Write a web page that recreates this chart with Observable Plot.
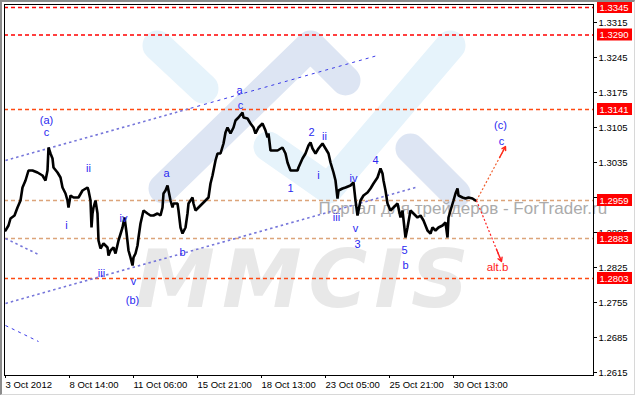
<!DOCTYPE html>
<html><head><meta charset="utf-8">
<script src="https://cdn.jsdelivr.net/npm/d3@7"></script>
<script src="https://cdn.jsdelivr.net/npm/@observablehq/plot@0.6"></script>
<style>
body{margin:0;background:#fff;}
#wrap{position:relative;width:635px;height:395px;overflow:hidden;background:#fff;}
#border{position:absolute;left:0;top:0;width:635px;height:395px;box-sizing:border-box;border-top:2px solid #8c8c8c;border-left:2px solid #8c8c8c;border-right:1px solid #d8d8d8;border-bottom:1px solid #d8d8d8;pointer-events:none;}
</style></head><body><div id="wrap"><div id="border"></div></div>
<script>
// ---- price path (bar index, price) ----
const bars = [0,3,5,9,12,15,17,20,23,27,32,37,40,42,43,45,47,48,52,55,57,60,62,63,65,68,73,77,82,83,85,86,87,88,90,92,93,95,98,102,103,105,108,110,113,117,119,121,123,125,127,128,130,132,133,135,138,142,145,148,152,155,157,158,160,162,163,165,167,168,172,173,175,177,180,182,183,185,187,188,190,193,197,200,203,205,207,210,212,215,218,220,222,225,228,230,233,237,238,242,245,248,250,253,257,260,262,263,265,268,272,277,280,282,285,288,292,293,297,300,303,305,307,310,313,317,320,323,325,328,330,332,333,337,340,345,348,350,352,353,355,358,362,365,368,372,375,377,378,380,382,385,388,392,395,397,400,402,405,408,412,415,418,422,425,427,430,433,437,440,442,443,445,448,450,452,453,457,460,463,467,470];
const prices = [1.2899,1.2909,1.2923,1.2929,1.2945,1.2959,1.2985,1.2999,1.3019,1.3019,1.3015,1.3009,1.2999,1.3019,1.3065,1.3053,1.3043,1.3025,1.3015,1.3005,1.2985,1.2973,1.2959,1.2945,1.2969,1.2965,1.2965,1.2979,1.2985,1.2979,1.2959,1.2905,1.2933,1.2945,1.2959,1.2933,1.2879,1.2863,1.2873,1.2865,1.2849,1.2859,1.2865,1.2853,1.2879,1.2905,1.2925,1.2895,1.2859,1.2845,1.2829,1.2845,1.2853,1.2869,1.2885,1.2913,1.2939,1.2933,1.2929,1.2929,1.2933,1.2929,1.2945,1.2973,1.2979,1.2989,1.2979,1.2959,1.2945,1.2953,1.2953,1.2939,1.2905,1.2893,1.2905,1.2933,1.2953,1.2959,1.2965,1.2953,1.2939,1.2945,1.2953,1.2959,1.2965,1.2993,1.3009,1.3039,1.3053,1.3053,1.3073,1.3095,1.3105,1.3093,1.3105,1.3119,1.3125,1.3135,1.3125,1.3123,1.3113,1.3105,1.3093,1.3105,1.3113,1.3099,1.3085,1.3093,1.3059,1.3059,1.3059,1.3065,1.3053,1.3035,1.3019,1.3019,1.3019,1.3025,1.3043,1.3053,1.3069,1.3075,1.3063,1.3053,1.3063,1.3073,1.3063,1.3053,1.3035,1.3015,1.2999,1.2963,1.2979,1.2983,1.2985,1.2989,1.2995,1.2959,1.2929,1.2939,1.2959,1.2969,1.2975,1.2983,1.2993,1.3005,1.3023,1.3013,1.2999,1.2979,1.2953,1.2939,1.2945,1.2953,1.2925,1.2939,1.2885,1.2905,1.2939,1.2933,1.2925,1.2929,1.2919,1.2899,1.2893,1.2905,1.2899,1.2905,1.2909,1.2915,1.2885,1.2925,1.2939,1.2959,1.2973,1.2983,1.2969,1.2965,1.2963,1.2965,1.2963,1.2959];

// ---- horizontal levels ----
const levels = [1.3345, 1.3290, 1.3141, 1.2959, 1.2883, 1.2803];
const levelKind = ["red", "red", "orange", "tan", "tan", "orange"];

// ---- axes ----
const yTicks = [1.3315, 1.3245, 1.3175, 1.3105, 1.3035, 1.2965, 1.2895, 1.2825, 1.2755, 1.2685, 1.2615];
const xTicks = [0, 64, 128, 192, 256, 320, 384, 448];
const xLabels = ["3 Oct 2012", "8 Oct 14:00", "11 Oct 06:00", "15 Oct 21:00", "18 Oct 13:00", "23 Oct 05:00", "25 Oct 21:00", "30 Oct 13:00"];

// ---- wave labels ----
const waveText  = ["(a)", "c", "ii", "i", "iii", "iv", "v", "(b)", "a", "b", "a", "c", "1", "2", "ii", "i", "iii", "iv", "v", "3", "4", "5", "b", "(c)", "c"];
const waveBar   = [41, 41, 83, 61, 96, 118, 128, 127, 161, 177, 234, 235, 285, 306, 319, 313, 331, 348, 350, 352, 370, 399, 400, 495, 496];
const wavePrice = [1.3119, 1.3095, 1.3023, 1.2909, 1.2813, 1.2923, 1.2797, 1.2759, 1.3013, 1.2855, 1.3179, 1.3149, 1.2983, 1.3095, 1.3087, 1.3009, 1.2925, 1.3003, 1.2903, 1.2871, 1.3039, 1.2859, 1.2829, 1.3109, 1.3077];
const altText = ["alt.b"];
const altBar = [492];
const altPrice = [1.2825];

// ---- channel lines (start bar, start price, end bar, end price) ----
const lavSegs = [[0, 1.3039, 185, 1.31434], [0, 1.2753, 410, 1.2985], [0, 1.2883, 33, 1.2851]];
const blueSegs = [[185, 1.31434, 372, 1.3249], [0, 1.2709, 33, 1.2677]];

// ---- forecast arrows ----
const arrowSegs = [[471, 1.2959, 500, 1.3067], [471, 1.2959, 496, 1.2837]];

// ---- watermark logo (bar, price) ----
const logoBlueA = [[152, 1.3269], [198, 1.3183]];
const logoBlueV = [[263, 1.3067], [323, 1.2983], [445, 1.3269]];
const logoLavL = [[158, 1.2983], [305, 1.3269], [340, 1.3199]];
const logoLavA = [[405, 1.3063], [450, 1.2973]];
const watermark = ["MMCIS"];
const watermarkPos = [300, 1.2797];
const portal = ["Портал для трейдеров - ForTrader.ru"];
const portalPos = [313, 1.2943];

const price = bars.map((b, i) => ({bar: b, p: prices[i]}));
const waves = waveText.map((t, i) => ({t, bar: waveBar[i], p: wavePrice[i]}));
const alts = altText.map((t, i) => ({t, bar: altBar[i], p: altPrice[i]}));
const seg = a => a.map(([x1, y1, x2, y2]) => ({x1, y1, x2, y2}));
const pts = a => a.map(([bar, p]) => ({bar, p}));
const levelColor = {red: "#ff0000", orange: "#ff4a12", tan: "#dca47a"};
const lv = levels.map((v, i) => ({v, k: levelKind[i]}));
const heads = seg(arrowSegs).map(d => ({x1: d.x2 - (d.x2 - d.x1) * 0.2, y1: d.y2 - (d.y2 - d.y1) * 0.2, x2: d.x2, y2: d.y2}));

const logoStyle = {x: "bar", y: "p", strokeWidth: 30, strokeLinecap: "round", strokeLinejoin: "round"};

const chart = Plot.plot({
  width: 635, height: 395,
  marginLeft: 4, marginRight: 42, marginTop: 4, marginBottom: 20,
  x: {domain: [-1, 588], axis: null},
  y: {domain: [1.2609, 1.3351], axis: null},
  style: {fontFamily: "'Liberation Sans', Arial, sans-serif", fontSize: "9.5px", background: "white", overflow: "visible"},
  marks: [
    Plot.line(pts(logoBlueA), {...logoStyle, stroke: "#e6f3fb"}),
    Plot.line(pts(logoBlueV), {...logoStyle, stroke: "#e6f3fb"}),
    Plot.line(pts(logoLavL), {...logoStyle, stroke: "#dde5f3"}),
    Plot.line(pts(logoLavA), {...logoStyle, stroke: "#dde5f3"}),
    Plot.text(watermark, {x: () => watermarkPos[0], y: () => watermarkPos[1], text: d => d, fontSize: 80, fontWeight: "bold", fontStyle: "italic", fontFamily: "'DejaVu Sans', sans-serif", fill: "#e8e8e8", textAnchor: "middle", lineAnchor: "middle", className: "wm"}),
    Plot.ruleY(lv, {y: "v", stroke: d => levelColor[d.k], strokeDasharray: "4,3", strokeWidth: 1.6}),
    Plot.text(portal, {x: () => portalPos[0], y: () => portalPos[1], text: d => d, fontSize: 17, fill: "#ababab", textAnchor: "start", lineAnchor: "middle"}),
    Plot.link(seg(lavSegs), {x1: "x1", y1: "y1", x2: "x2", y2: "y2", stroke: "#7676da", strokeWidth: 1.6, strokeDasharray: "2.5,3"}),
    Plot.link(seg(blueSegs), {x1: "x1", y1: "y1", x2: "x2", y2: "y2", stroke: "#3b3be8", strokeWidth: 1, strokeDasharray: "3,4"}),
    Plot.line(price, {x: "bar", y: "p", stroke: "black", strokeWidth: 2.6, strokeLinejoin: "miter"}),
    Plot.text(waves, {x: "bar", y: "p", text: "t", fill: "#2a2af0", fontSize: 11, fontFamily: "'Liberation Sans', Arial, sans-serif"}),
    Plot.text(alts, {x: "bar", y: "p", text: "t", fill: "#ff1a1a", fontSize: 11.5, fontFamily: "'Liberation Sans', Arial, sans-serif"}),
    Plot.link(seg(arrowSegs), {x1: "x1", y1: "y1", x2: "x2", y2: "y2", stroke: (d, i) => i === 0 ? "#f06030" : "#ff2020", strokeWidth: 1.2, strokeDasharray: "2,2"}),
    Plot.arrow(heads, {x1: "x1", y1: "y1", x2: "x2", y2: "y2", stroke: (d, i) => i === 0 ? "#ff2a1a" : "#ff2020", strokeWidth: 1.4, headLength: 7}),
    Plot.frame({stroke: "black", strokeWidth: 1}),
    Plot.axisY({anchor: "right", ticks: yTicks, tickSize: 3, tickPadding: 2, tickFormat: d => d.toFixed(4), label: null, fill: "black", stroke: "black"}),
    Plot.axisX({anchor: "bottom", ticks: xTicks, tickSize: 3, tickPadding: 3, tickFormat: d => xLabels[xTicks.indexOf(d)], textAnchor: "start", label: null, fill: "black", stroke: "black"}),
    Plot.rect(lv, {x1: 592, x2: 627, y1: d => d.v - 0.0012, y2: d => d.v + 0.0012, fill: "#ff0000"}),
    Plot.text(lv, {x: 594, y: "v", text: d => d.v.toFixed(4), fill: "white", textAnchor: "start", fontSize: 9.5})
  ]
});
chart.querySelectorAll(".wm text").forEach(t => t.setAttribute("letter-spacing", "7"));
document.getElementById("wrap").prepend(chart);
</script>
</body></html>
